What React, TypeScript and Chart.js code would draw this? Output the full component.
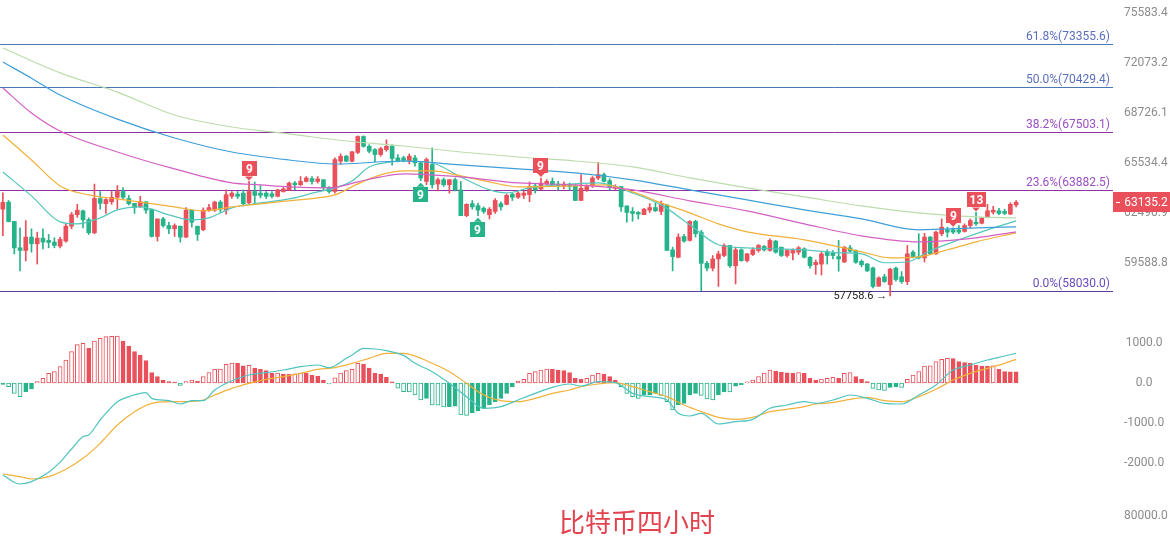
import React, { useEffect, useRef } from 'react';
import { Chart, registerables } from 'chart.js';

Chart.register(...registerables);

// ---------- data ----------
const N_SLOTS = 196;
const LABELS = Array.from({ length: N_SLOTS }, (_, i) => String(i));

const OPEN = [
  62723,63147,62000,60463,60310,61082,60695,61024,60889,60792,
  60560,60850,61720,62394,62627,62104,61333,63362,63053,63169,
  63437,63786,63362,63072,62878,63169,62723,61119,62144,61757,
  61564,61720,61082,62665,61720,61506,62665,62665,63150,62665,
  63495,63630,63690,63110,63786,63690,63690,63650,63495,63786,
  63882,64300,64195,64400,64570,64400,64507,64030,63786,65650,
  65964,65650,66200,67210,66590,66380,66068,66380,66590,65860,
  65860,65650,65860,65550,64400,65444,64240,64507,64195,64507,
  63882,62336,63053,62936,62780,62394,62588,63053,63013,63630,
  63437,63553,63593,64130,63940,64240,64400,64240,64090,64195,
  64130,63245,63882,64130,64610,64820,64445,63990,64090,62917,
  62588,62530,62394,62665,62820,62588,62975,60347,59923,61119,
  60889,62000,61370,59576,59304,59826,60020,60598,59440,60347,
  59730,60080,60310,60540,60310,60850,60500,60020,60160,60212,
  60405,59923,59498,59536,60212,60150,59960,59650,60463,60310,
  59690,59536,59320,58300,58820,58377,59304,58820,58550,60212,
  59960,59884,61082,60116,61275,61506,61506,61506,61410,61757,
  61950,61890,62280,62550,62627,62588,62434,62975,
];
const HIGH = [
  63708,63245,62000,61622,62046,61564,61370,61564,61236,61043,
  61082,61854,62530,63013,62665,62202,64240,63786,63362,63786,
  64150,64030,63553,63072,63495,63169,62723,62144,62240,61950,
  61854,61720,62820,62665,61720,62800,63013,63207,63245,63882,
  63786,63786,63882,64402,64370,64150,63786,63786,63925,64025,
  64360,64400,64700,64700,64700,64700,64507,64090,65860,66110,
  66025,66275,67254,67254,66692,66440,66520,67004,66692,66068,
  65964,66110,66025,65610,65860,66485,64610,64610,64507,64610,
  64400,63053,63245,63090,62860,62820,63362,63169,63630,63690,
  63786,63825,64370,64240,64610,64507,64610,64400,64370,64300,
  64195,64820,64195,64700,65580,64920,64570,64195,64090,62917,
  62820,62588,62780,63053,63110,63207,63013,60500,61275,61236,
  62046,62070,61467,59690,60020,60270,60695,60598,60500,60405,
  60150,60463,60657,60598,60985,60889,60500,60347,60405,60540,
  60463,59960,59768,60212,60347,60310,60890,60540,60598,60347,
  59768,59576,59360,58820,58957,59300,59360,59110,60598,60310,
  61275,61300,61119,61430,62144,61660,61622,61757,61854,62144,
  62530,62240,63013,62900,62780,62723,63110,63245,
];
const LOW = [
  61159,61970,60116,59150,59716,60212,59536,60405,60463,60463,
  60463,60792,61564,62240,61622,61236,61275,62723,62472,63013,
  62723,63303,62975,62472,62820,62472,61082,60850,61660,61275,
  61119,60792,61043,61660,60889,61450,62588,62588,62530,62434,
  63362,63362,62917,63053,63053,63400,63362,63400,63460,63745,
  63840,63882,64150,64370,64230,64300,63882,63690,63690,65444,
  65610,65610,66130,66525,66170,65610,65964,66275,65400,65610,
  65610,65480,65340,64445,64195,63990,63820,64090,63690,63825,
  62336,62280,62723,62336,62472,62144,62472,62665,62975,63245,
  63362,63362,63169,63690,63882,64195,64090,63882,63945,63882,
  63245,63245,63790,64030,64507,64370,63882,63882,62588,61950,
  62010,62144,62394,62530,62588,62394,60310,59150,59884,60792,
  60850,61082,58030,59150,59150,58280,59960,59340,58420,59690,
  59650,60020,60212,60270,60270,60150,59960,59923,59768,60080,
  59884,59304,58957,58918,59536,59826,59130,59630,60212,59576,
  59380,59110,58200,58280,58510,57758.6,58570,58450,58377,59884,
  59826,59650,60080,60080,61160,61082,61275,61275,61370,61622,
  61757,61854,62202,62434,62394,62394,62394,62860,
];
const CLOSE = [
  63130,61987,60460,60310,61082,60695,61024,60792,60773,60598,
  60947,61720,62394,62665,62090,61333,63362,63072,63303,63437,
  63786,63437,63053,62820,63169,62665,61119,62144,61757,61564,
  61757,61082,62665,61950,61236,62665,62820,63150,62723,63593,
  63690,63495,63053,63786,63553,63553,63495,63495,63882,63945,
  64300,64195,64400,64610,64400,64550,64030,63786,65756,65964,
  65650,66236,67210,66590,66275,66068,66440,66590,65820,65650,
  65690,65964,65550,64610,65756,64195,64507,64195,64507,63882,
  62336,63013,62860,62665,62588,62723,63245,62860,63553,63437,
  63690,63690,64090,63882,64300,64400,64150,64150,64240,64090,
  63245,63980,64090,64610,64820,64400,64090,64090,62860,62530,
  62472,62434,62723,62820,62627,63013,60310,59960,61082,60850,
  62000,61275,59576,59304,59826,60116,60598,59440,60347,59730,
  60116,60347,60598,60347,60889,60212,60020,60310,60310,60463,
  59923,59440,59630,60116,60020,60020,59826,60500,60270,59630,
  59498,59150,58280,58760,58550,59246,58667,58550,60116,59960,
  59884,61082,60116,61370,61660,61370,61370,61370,61757,62046,
  61854,62202,62627,62665,62472,62472,63013,63135.2,
];

// moving averages: [candle index, price]
const MA_LGREEN = [[0,73110],[10,71400],[20,70110],[30,68600],[40,67820],[47,67503],[50,67375],[60,66925],[70,66608],[80,66228],[90,65915],[100,65665],[110,65292],[120,64616],[130,64005],[140,63460],[150,62920],[160,62504],[170,62268],[177,62209]];
const MA_BLUE = [[0,72143],[5,71043],[10,69910],[20,68327],[30,67116],[40,66228],[50,65727],[58,65478],[70,65665],[80,65416],[90,65169],[100,64922],[110,64493],[120,63883],[130,63280],[140,62682],[150,62150],[160,61505],[170,61622],[177,61680]];
const MA_PINK = [[0,70382],[5,68730],[10,67560],[20,66228],[30,65169],[40,64310],[45,64188],[50,64066],[57,64005],[62,64371],[66,64677],[70,64861],[80,64677],[90,64310],[100,64188],[110,63883],[120,63220],[130,62623],[140,61856],[150,61156],[160,60809],[170,61040],[177,61389]];
const MA_ORANGE = [[0,67307],[5,65727],[10,64127],[15,63580],[20,63340],[30,62861],[35,62623],[40,62861],[50,63220],[55,63400],[58,63580],[62,64249],[66,64800],[70,65045],[75,65045],[80,64738],[85,64371],[90,64066],[100,64127],[105,64188],[110,63762],[115,63100],[120,62504],[125,61856],[130,61389],[140,60924],[150,60234],[155,59892],[160,59949],[165,60349],[170,60809],[177,61330]];
const MA_TEAL = [[0,64984],[5,63520],[10,61974],[13,61856],[17,62209],[20,62682],[24,62861],[29,62386],[33,62091],[36,62209],[40,62801],[45,63100],[50,63340],[55,63762],[58,64005],[61,64432],[64,65292],[68,65602],[70,65665],[75,65540],[80,64677],[85,63883],[88,63701],[92,64005],[97,64188],[104,64310],[110,63701],[115,62980],[120,61798],[125,60636],[130,60464],[135,60406],[140,60349],[146,60177],[150,60120],[154,59609],[158,59666],[162,60292],[167,60924],[172,61505],[177,62032]];

const HIST = [
  -33,-92,-258,-342,-217,-150,33,117,242,283,
  408,575,783,960,990,867,1050,1117,1158,1165,
  1170,1050,925,783,700,558,258,158,75,33,
  17,-60,33,75,50,158,258,342,345,467,
  500,490,430,440,370,340,310,240,245,220,
  215,230,250,245,190,170,70,-10,130,250,
  310,340,490,475,370,240,225,140,30,-130,
  -217,-225,-300,-425,-383,-550,-555,-600,-590,-580,
  -800,-810,-742,-700,-633,-550,-467,-383,-258,-92,
  50,92,242,283,325,350,345,325,308,258,
  120,100,115,200,240,225,160,75,-92,-258,
  -342,-383,-300,-295,-258,-310,-467,-675,-550,-508,
  -300,-258,-310,-400,-420,-300,-217,-225,-80,-40,
  30,75,160,245,320,300,265,255,250,262,
  242,117,75,100,117,142,117,242,258,158,
  92,33,-133,-175,-183,-108,-92,-110,92,200,
  283,425,430,533,592,617,610,533,508,492,
  450,425,420,430,342,283,280,278,
];
const DIF = [[0,-2300],[3,-2525],[5,-2467],[8,-2230],[10,-1980],[12,-1650],[14,-1342],[15,-1300],[17,-925],[20,-467],[22,-342],[25,-242],[26,-383],[29,-442],[31,-525],[33,-442],[35,-442],[37,-175],[40,58],[43,200],[46,258],[49,325],[52,408],[55,450],[57,383],[60,617],[61,700],[63,867],[65,850],[67,808],[70,690],[72,492],[75,283],[78,-8],[81,-342],[84,-633],[87,-592],[90,-425],[93,-258],[96,-108],[99,-25],[101,-75],[104,33],[107,8],[110,-258],[113,-342],[116,-425],[118,-758],[120,-825],[122,-758],[125,-1025],[128,-967],[131,-908],[134,-633],[137,-550],[140,-467],[142,-508],[145,-425],[146,-383],[148,-300],[151,-383],[154,-508],[157,-525],[160,-300],[163,-50],[166,325],[169,450],[172,575],[175,675],[177,742]];
const DEA = [[0,-2275],[3,-2342],[5,-2400],[8,-2342],[11,-2158],[14,-1883],[17,-1508],[20,-1050],[23,-717],[26,-508],[29,-467],[32,-467],[35,-425],[37,-300],[40,-133],[43,-8],[46,92],[49,158],[52,242],[55,342],[58,383],[61,492],[64,617],[67,742],[70,742],[75,492],[78,283],[81,-8],[84,-300],[87,-442],[90,-467],[93,-383],[96,-258],[99,-175],[101,-92],[104,-25],[107,8],[110,-92],[113,-217],[116,-342],[119,-550],[122,-717],[125,-858],[128,-908],[131,-858],[134,-717],[137,-658],[140,-592],[142,-525],[145,-492],[148,-408],[151,-358],[154,-442],[157,-467],[160,-342],[163,-158],[166,75],[169,242],[172,367],[175,492],[177,592]];

const PRICE_TICKS = [75583.4, 72073.2, 68726.1, 65534.4, 62490.9, 59588.8];
const MACD_TICKS = [1000, 0, -1000, -2000];
const VOL_TICKS = [80000];
const FIB_LEVELS = ['61.8%', '50.0%', '38.2%', '23.6%', '0.0%'];
const FIB_PRICES = [73355.6, 70429.4, 67503.1, 63882.5, 58030.0];
const LAST_PRICE = 63135.2;
const LOW_MARK_INDEX = 155;
const TD_UP: [number, string][] = [[43, '9'], [94, '9'], [166, '9'], [170, '13']];
const TD_DOWN: [number, string][] = [[73, '9'], [83, '9']];
const TITLE = '比特币四小时';

// ---------- styles ----------
const RED = '#e9505a';
const GREEN = '#27b38a';
const FONT = 'Roboto, "Noto Sans", sans-serif';
const TICK_COLOR = '#8c8c8c';
const FIB_LINE_COLORS = ['#4a78b5', '#4a78b5', '#8c32a3', '#8c32a3', '#5a3d9e'];
const FIB_TEXT_COLORS = ['#5c6fbd', '#5c6fbd', '#9a4fc4', '#9a4fc4', '#6a4cc0'];

function rightAxis(type: string, ticks: number[], min: number, max: number) {
  return {
    type,
    position: 'right',
    min,
    max,
    bounds: 'data',
    grid: { display: false, drawTicks: false },
    border: { display: false },
    afterBuildTicks: (s: any) => { s.ticks = ticks.map((v) => ({ value: v })); },
    afterFit: (s: any) => { s.width = 48; s.paddingTop = 0; s.paddingBottom = 0; },
    ticks: {
      color: TICK_COLOR,
      font: { family: FONT, size: 12 },
      padding: 2,
      crossAlign: 'center',
      autoSkip: false,
      callback: (v: any) => Number(v).toFixed(1),
    },
  };
}

const xAxis = { type: 'category', display: false, offset: true, grid: { display: false } };

function linePts(pts: number[][]) {
  return pts.map(([i, v]) => ({ x: String(i), y: v }));
}

function lineDs(pts: number[][], color: string, width = 1.2) {
  return {
    type: 'line',
    data: linePts(pts),
    borderColor: color,
    borderWidth: width,
    pointRadius: 0,
    spanGaps: true,
    fill: false,
    cubicInterpolationMode: 'monotone',
    order: 0,
  };
}

function drawMarker(ctx: CanvasRenderingContext2D, cx: number, tipY: number, text: string, color: string, above: boolean) {
  ctx.font = `bold 12px ${FONT}`;
  const w = Math.max(15, Math.ceil(ctx.measureText(text).width) + 5);
  const h = 15;
  const left = Math.round(cx - w / 2);
  ctx.fillStyle = color;
  let boxTop: number;
  ctx.beginPath();
  if (above) {
    const bottom = tipY - 4;
    boxTop = bottom - h;
    ctx.moveTo(cx - 4, bottom);
    ctx.lineTo(cx + 4, bottom);
    ctx.lineTo(cx, tipY);
  } else {
    const top = tipY + 4;
    boxTop = top;
    ctx.moveTo(cx - 4, top);
    ctx.lineTo(cx + 4, top);
    ctx.lineTo(cx, tipY);
  }
  ctx.closePath();
  ctx.fill();
  ctx.fillRect(left, Math.round(boxTop), w, h);
  ctx.fillStyle = '#ffffff';
  ctx.textAlign = 'center';
  ctx.textBaseline = 'middle';
  ctx.fillText(text, left + w / 2, Math.round(boxTop) + h / 2 + 1);
}

const mainOverlay = {
  id: 'mainOverlay',
  beforeDatasetsDraw(chart: any) {
    const { ctx, chartArea, scales } = chart;
    const y = scales.y;
    ctx.save();
    FIB_PRICES.forEach((p, k) => {
      const py = Math.round(y.getPixelForValue(p)) + 0.5;
      ctx.strokeStyle = FIB_LINE_COLORS[k];
      ctx.lineWidth = 1;
      ctx.beginPath();
      ctx.moveTo(chartArea.left, py);
      ctx.lineTo(chartArea.right - 9, py);
      ctx.stroke();
      ctx.font = `12px ${FONT}`;
      ctx.fillStyle = FIB_TEXT_COLORS[k];
      ctx.textAlign = 'right';
      ctx.textBaseline = 'bottom';
      ctx.fillText(`${FIB_LEVELS[k]}(${p.toFixed(1)})`, chartArea.right - 12, py - 2);
    });
    ctx.restore();
  },
  afterDatasetsDraw(chart: any) {
    const { ctx, scales } = chart;
    const x = scales.x;
    const y = scales.y;
    ctx.save();
    TD_UP.forEach(([i, t]) => {
      drawMarker(ctx, x.getPixelForValue(i), y.getPixelForValue(HIGH[i]) - 1, t, RED, true);
    });
    TD_DOWN.forEach(([i, t]) => {
      drawMarker(ctx, x.getPixelForValue(i), y.getPixelForValue(LOW[i]) + 2, t, GREEN, false);
    });
    const lx = x.getPixelForValue(LOW_MARK_INDEX) - 3;
    const ly = y.getPixelForValue(LOW[LOW_MARK_INDEX]);
    ctx.font = `11px ${FONT}`;
    ctx.fillStyle = '#222222';
    ctx.textAlign = 'right';
    ctx.textBaseline = 'middle';
    ctx.fillText(`${LOW[LOW_MARK_INDEX].toFixed(1)} →`, lx, ly);
    ctx.restore();
  },
  afterDraw(chart: any) {
    const { ctx, chartArea, scales } = chart;
    const py = Math.round(scales.y.getPixelForValue(LAST_PRICE));
    const left = chartArea.right - 9;
    ctx.save();
    ctx.fillStyle = RED;
    ctx.fillRect(left, py - 10, chart.width - left, 20);
    ctx.fillStyle = '#ffffff';
    ctx.fillRect(left + 3, py, 4, 1);
    ctx.font = `12px ${FONT}`;
    ctx.textAlign = 'center';
    ctx.textBaseline = 'middle';
    ctx.fillText(LAST_PRICE.toFixed(1), chartArea.right + 24, py + 1);
    ctx.restore();
  },
};

const baseOptions = {
  animation: false,
  responsive: false,
  events: [],
  layout: { padding: 0 },
  plugins: { legend: { display: false }, tooltip: { enabled: false }, title: { display: false } },
};

function buildMain(canvas: HTMLCanvasElement) {
  const colors = CLOSE.map((c, i) => (c >= OPEN[i] ? RED : GREEN));
  return new Chart(canvas, {
    type: 'bar',
    data: {
      labels: LABELS,
      datasets: [
        lineDs(MA_LGREEN, '#bcdcac'),
        lineDs(MA_BLUE, '#3f9fd8'),
        lineDs(MA_PINK, '#d45fc4'),
        lineDs(MA_ORANGE, '#f2b13a'),
        lineDs(MA_TEAL, '#55c6bd'),
        {
          type: 'bar',
          data: OPEN.map((o, i) => [o, CLOSE[i]]),
          backgroundColor: colors,
          barThickness: 4,
          minBarLength: 1,
          grouped: false,
          order: 1,
        },
        {
          type: 'bar',
          data: LOW.map((l, i) => [l, HIGH[i]]),
          backgroundColor: colors,
          barThickness: 1,
          minBarLength: 1,
          grouped: false,
          order: 2,
        },
      ],
    } as any,
    options: {
      ...baseOptions,
      scales: {
        x: xAxis,
        y: rightAxis('logarithmic', PRICE_TICKS, 57263, 76523),
      },
    } as any,
    plugins: [mainOverlay],
  });
}

function buildMacd(canvas: HTMLCanvasElement) {
  const fills = HIST.map((v, i) => {
    const prev = i > 0 ? HIST[i - 1] : v;
    const base = v >= 0 ? RED : GREEN;
    const hollow = v >= 0 ? v > Math.max(prev, 0) : v < Math.min(prev, 0);
    return hollow ? '#ffffff' : base;
  });
  const strokes = HIST.map((v) => (v >= 0 ? RED : GREEN));
  return new Chart(canvas, {
    type: 'bar',
    data: {
      labels: LABELS,
      datasets: [
        lineDs(DIF, '#4fc4bf'),
        lineDs(DEA, '#f2b13a'),
        {
          type: 'bar',
          data: HIST,
          backgroundColor: fills,
          borderColor: strokes,
          borderWidth: 1,
          borderSkipped: false,
          barThickness: 4,
          minBarLength: 1,
          grouped: false,
          order: 1,
        },
      ],
    } as any,
    options: {
      ...baseOptions,
      scales: {
        x: xAxis,
        y: rightAxis('linear', MACD_TICKS, -2800, 1825),
      },
    } as any,
  });
}

function buildVol(canvas: HTMLCanvasElement) {
  return new Chart(canvas, {
    type: 'bar',
    data: { labels: LABELS, datasets: [{ data: [] }] } as any,
    options: {
      ...baseOptions,
      scales: {
        x: xAxis,
        y: rightAxis('linear', VOL_TICKS, 0, 142222),
      },
    } as any,
  });
}

export default function App() {
  const mainRef = useRef<HTMLCanvasElement>(null);
  const macdRef = useRef<HTMLCanvasElement>(null);
  const volRef = useRef<HTMLCanvasElement>(null);

  useEffect(() => {
    const charts = [
      buildMain(mainRef.current as HTMLCanvasElement),
      buildMacd(macdRef.current as HTMLCanvasElement),
      buildVol(volRef.current as HTMLCanvasElement),
    ];
    return () => charts.forEach((c) => c.destroy());
  }, []);

  return (
    <div style={{ position: 'fixed', left: 0, top: 0, width: 1170, height: 543, background: '#ffffff', overflow: 'hidden' }}>
      <canvas ref={mainRef} width={1170} height={305} style={{ position: 'absolute', left: 0, top: 0, width: 1170, height: 305 }} />
      <canvas ref={macdRef} width={1170} height={185} style={{ position: 'absolute', left: 0, top: 310, width: 1170, height: 185 }} />
      <canvas ref={volRef} width={1170} height={48} style={{ position: 'absolute', left: 0, top: 495, width: 1170, height: 48 }} />
      <div
        style={{
          position: 'absolute',
          left: 0,
          top: 506,
          width: 1274,
          textAlign: 'center',
          fontFamily: '"Noto Sans CJK SC", "Noto Sans", sans-serif',
          fontSize: 26,
          lineHeight: '30px',
          color: '#e3434f',
          whiteSpace: 'nowrap',
        }}
      >
        {TITLE}
      </div>
    </div>
  );
}
